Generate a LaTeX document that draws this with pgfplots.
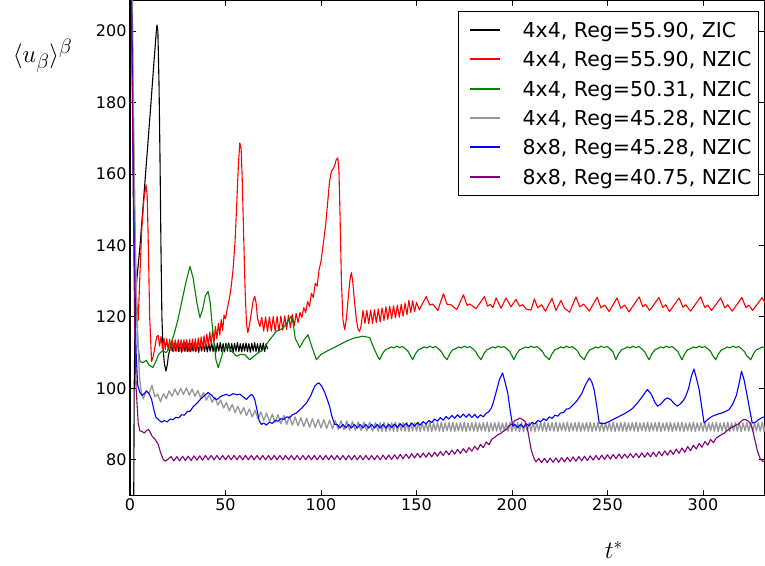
\documentclass[border=0pt]{standalone}
\usepackage[no-math]{fontspec}
\setmainfont{DejaVu Sans}
\usepackage{pgfplots}
\pgfplotsset{compat=1.18}
\definecolor{mplgreen}{RGB}{0,128,0}
\definecolor{mplgray}{RGB}{150,150,150}
\definecolor{mplpurple}{RGB}{128,0,128}
\begin{document}
\begin{tikzpicture}
\begin{axis}[
  width=635pt, height=495.5pt, scale only axis,
  xmin=0, xmax=332.5, ymin=70, ymax=208.7,
  xtick={0,50,...,300}, ytick={80,100,...,200},
  tick align=inside, major tick length=6pt,
  tick style={black, line width=0.8pt},
  axis line style={line width=1.2pt},
  ticklabel style={font=\fontsize{16}{19}\selectfont},
  /pgf/number format/assume math mode=true,
  xlabel={$t^*$},
  xlabel style={at={(rel axis cs:0.762,-0.109)}, anchor=center, font=\fontsize{27}{32}\selectfont},
  every axis plot/.append style={line width=1.1pt, line join=round},
  legend cell align=left,
  legend image code/.code={\draw[#1, line width=2pt] (0pt,0pt) -- (30pt,0pt); \path (-4pt,0pt) (52pt,0pt);},
  legend style={at={(rel axis cs:0.9906,0.9778)}, anchor=north east, draw=black, line width=1pt, fill=white,
    font=\fontsize{20.5}{24}\selectfont, inner xsep=7pt, inner ysep=11.2pt, row sep=14.3pt,
    nodes={inner sep=0pt, text height=15pt, text depth=0pt}},
]
% black ZIC
\addplot[black] coordinates {(0,0)(1.4,0)(1.8,50)(2.2,100)(2.7,122)(3.5,130)(5.2,139.6)(7,152)(9,166)(11,180)(12.5,191)(13.5,198)(14.1,201.7)(14.6,200)(15.2,185)(15.7,165)(16.2,140)(16.7,120)(17.3,111)(18,107)(18.8,104.8)(19.5,106.5)(20.2,109.5)(21,111)
(21.75,112.4)(22.5,110.2)(23.25,112.6)(24,110.4)(24.75,112.7)(25.5,110.3)(26.25,112.5)(27,110.1)(27.75,112.6)(28.5,110.4)(29.25,112.8)(30,110.3)(30.75,112.5)(31.5,110.2)(32.25,112.6)(33,110.4)(33.75,112.7)(34.5,110.3)(35.25,112.5)(36,110.1)(36.75,112.6)(37.5,110.4)(38.25,112.8)(39,110.3)(39.75,112.5)(40.5,110.2)(41.25,112.6)(42,110.4)(42.75,112.7)(43.5,110.3)(44.25,112.5)(45,110.1)(45.75,112.6)(46.5,110.4)(47.25,112.8)(48,110.3)(48.75,112.5)(49.5,110.2)(50.25,112.6)(51,110.4)(51.75,112.7)(52.5,110.3)(53.25,112.5)(54,110.1)(54.75,112.6)(55.5,110.4)(56.25,112.8)(57,110.3)(57.75,112.5)(58.5,110.2)(59.25,112.6)(60,110.4)(60.75,112.7)(61.5,110.3)(62.25,112.5)(63,110.1)(63.75,112.6)(64.5,110.4)(65.25,112.8)(66,110.3)(66.75,112.5)(67.5,110.2)(68.25,112.6)(69,110.4)(69.75,112.7)(70.5,110.3)(71.25,112.5)(72,111)};
\addlegendentry{4x4, Reg=55.90, ZIC}
% red
\addplot[red] coordinates {(0,260)(0.8,210)(1.6,170)(2.5,140)(3.4,125)(4.3,119)(5.2,132)(6.2,145)(7.3,153)(8.4,157)(9,154)(9.6,140)(10.3,120)(11.3,107.5)(12.2,109)(13.2,112)(14,114.5)
(14.75,114.8)(15.5,111.8)(16.25,114.5)(17,111.1)(17.75,114.1)(18.5,110.9)(19.25,113.9)(20,110.7)(20.75,113.8)(21.5,110.6)(22.25,113.7)(23,110.5)(23.75,113.6)(24.5,110.4)(25.25,113.6)(26,110.4)(26.75,113.6)(27.5,110.4)(28.25,113.6)(29,110.4)(29.75,113.6)(30.5,110.4)(31.25,113.7)(32,110.4)(32.75,113.8)(33.5,110.5)(34.25,113.9)(35,110.6)(35.75,114.1)(36.5,110.7)(37.25,114.4)(38,111)(38.75,114.7)(39.5,111.4)(40.25,115.2)(41,111.9)(41.75,115.8)(42.5,112.4)(43.25,116.5)(44,113)(44.75,117.3)(45.5,113.8)(46.25,118.2)(47,114.9)(47.75,119.3)(48.5,116.2)(49.25,120.5)
(50,119.5)(51,122.5)(52,125)(53,128.5)(54,133.5)(55,141)(56,153)(56.8,163)(57.5,168.7)(58.2,167)(58.8,158)(59.5,143)(60.3,127)(61,118)(61.7,115.6)(62.5,117.5)(63.5,121)(64.5,124.5)(65.3,125.7)(66,124)(66.8,119.5)(68,117.3)
(69,119.9)(70,116.0)(71,120.0)(72,115.9)(73,120.0)(74,116.0)(75,120.1)(76,116.0)(77,120.1)(78,116.1)(79,120.2)(80,116.3)(81,120.3)(82,116.5)(83,120.5)(84,116.9)(85,120.7)(86,117.5)(87,121.0)(88,118.4)
(89,121.2)(90,119.8)(91,122.6)(92,121.2)(93,124.3)(94,122.9)(95,126.6)(96,125.4)(97,129.4)(98,128.6)(99,133.2)(100,135.5)(101,139.6)(102.5,146)(103.5,152)(104.5,158)(105.5,160.8)(106.5,161.5)(107.3,162.5)(108,164)(108.8,164.5)(109.4,161)(110,148)(110.7,130)(111.5,119.2)(112.4,116.4)(113.3,119.5)(114.2,125)(115.2,130.5)(115.9,132.4)(116.6,130)(117.5,124.5)(118.5,119.5)(119.4,116.5)(120.2,115.9)(121,117.5)
(122,121.8)(123,118.2)(124,121.8)(125,118.1)(126,121.9)(127,118.2)(128,122)(129,118.4)(130,122.2)(131,118.6)(132,122.5)(133,119)(134,122.8)(135,119.3)(136,123)(137,119.5)(138,123.1)(139,119.7)(140,123.3)(141,119.9)(142,123.5)(143,120.2)(144,123.9)(145,120.6)(146,124.6)(147,121.2)(148,124.5)(149,121.5)(150,124)(151.5,122)(153.3,123.9)
(155.1,125.7)(157,123.3)(158.5,123.6)(161.2,121.8)(164.1,126.5)(166,123.5)(168.1,123.4)(171.1,122)(174.6,126.2)(176.5,123.2)(178,123.6)(181.2,122.3)(185.6,125.7)(187.2,123)(188.6,123.5)(190,122.6)(191.7,125.3)(194.3,122.4)(196.9,125.3)(199.5,122.8)(202.1,124.9)(204,123)(205.6,123.4)(207.4,122.2)(210,121.9)(211.7,125)(213.5,122.5)(215.5,123.4)(217.5,121.6)(221,125.2)(223,121.8)(225.7,124.6)(227.5,122.4)(230.2,121.3)(233.5,125.6)(235.5,122.8)(237.5,123.6)(240.5,121.6)(244.6,125.5)(246.5,122.6)(248.5,123.3)(250.9,121.5)(255,125.3)(257,122.4)(259,123.3)(261.3,121.4)(266.6,125.6)(268.5,122.8)(270,123.5)(272,121.8)(277,125.4)(279,122.6)(280.5,123.4)(282.5,121.5)(287.5,125.3)(289.5,122.7)(291,123.4)(293.5,121.6)(298.8,125.6)(301,122.6)(302.5,123.3)(304.5,121.8)(309.3,125.3)(311.5,122.5)(313,123.4)(315.3,121.6)(320.4,125.4)(322.5,122.6)(324,123.3)(326,121.8)(331,125.4)(333,123.5)};
\addlegendentry{4x4, Reg=55.90, NZIC}
% green
\addplot[mplgreen] coordinates {(0,260)(1.2,200)(2.3,150)(3.2,125)(4.2,112)(5.2,107.5)(6.8,107.2)(8.5,107.8)(10,106.5)(12,105.8)(13.5,107.5)(15,109.5)(17,110.5)(19,110)(20.9,111.7)(23,115)(25,119)(27,124)(29.6,130.4)(31.4,134.1)(33,131)(35,124)(36.6,119.8)(38,122)(39.5,126)(40.9,127.1)(42,124)(43.5,115)(45,108)(46.2,105.8)(47.5,108)(49,111)(51.3,112.2)(53,110.5)(55.8,109)(58,109.5)(60.1,109.4)(62.7,108)(66,109.5)(69.5,110.8)(73,113.5)(76.7,116)(79,116.5)(81,117.4)(83,119)(84.5,120.2)(85.5,118)(86.5,114)(88.9,111.4)(91,113.5)(93.2,115)(95,112)(97.6,108)(100,109.5)(104.5,110.8)(109,112)(113.3,113.2)(117,114)(121.8,114.6)(125.5,114.2)(127.5,111.5)(129.6,109)
(130.7,108.0)(132.2,109.7)(133.7,110.8)(135.2,111.1)(136.7,111.6)(138.2,111.3)(139.7,111.8)(141.2,111.4)(142.7,111.7)(144.2,111.1)(145.7,110.3)(146.9,109.1)
(148,108.0)(149.5,109.7)(151,110.8)(152.5,111.1)(154,111.6)(155.5,111.3)(157,111.8)(158.5,111.4)(160,111.7)(161.5,111.1)(163,110.3)(164.2,109.1)
(166,108.0)(167.5,109.7)(169,110.8)(170.5,111.1)(172,111.6)(173.5,111.3)(175,111.8)(176.5,111.4)(178,111.7)(179.5,111.1)(181,110.3)(182.2,109.1)
(183.8,108.0)(185.3,109.7)(186.8,110.8)(188.3,111.1)(189.8,111.6)(191.3,111.3)(192.8,111.8)(194.3,111.4)(195.8,111.7)(197.3,111.1)(198.8,110.3)(200,109.1)
(201,108.0)(202.5,109.7)(204,110.8)(205.5,111.1)(207,111.6)(208.5,111.3)(210,111.8)(211.5,111.4)(213,111.7)(214.5,111.1)(216,110.3)(217.2,109.1)(218.5,108.6)
(219.5,108.0)(221,109.7)(222.5,110.8)(224,111.1)(225.5,111.6)(227,111.3)(228.5,111.8)(230,111.4)(231.5,111.7)(233,111.1)(234.5,110.3)(235.7,109.1)(236.8,108.5)
(237.8,108.0)(239.3,109.7)(240.8,110.8)(242.3,111.1)(243.8,111.6)(245.3,111.3)(246.8,111.8)(248.3,111.4)(249.8,111.7)(251.3,111.1)(252.8,110.3)
(254.4,108.0)(255.9,109.7)(257.4,110.8)(258.9,111.1)(260.4,111.6)(261.9,111.3)(263.4,111.8)(264.9,111.4)(266.4,111.7)(267.9,111.1)(269.4,110.3)(270.6,109.1)
(271.8,108.0)(273.3,109.7)(274.8,110.8)(276.3,111.1)(277.8,111.6)(279.3,111.3)(280.8,111.8)(282.3,111.4)(283.8,111.7)(285.3,111.1)(286.8,110.3)(288,109.1)
(289,108.0)(290.5,109.7)(292,110.8)(293.5,111.1)(295,111.6)(296.5,111.3)(298,111.8)(299.5,111.4)(301,111.7)(302.5,111.1)(304,110.3)(305.2,109.1)
(306.7,108.0)(308.2,109.7)(309.7,110.8)(311.2,111.1)(312.7,111.6)(314.2,111.3)(315.7,111.8)(317.2,111.4)(318.7,111.7)(320.2,111.1)(321.7,110.3)(322.9,109.1)(324,108.6)
(325,108.0)(326.5,109.7)(328,110.8)(329.5,111.1)(331,111.6)(332.5,111.3)};
\addlegendentry{4x4, Reg=50.31, NZIC}
% gray
\addplot[mplgray, line width=1.3pt] coordinates {(0,260)(1,220)(2,170)(3,135)(4,115)(5,103)(6,98.5)(7,97)
(8.5,99.4)(10,98.6)(11.5,100.8)(13,97.6)(14.5,98.4)(16,96.2)(17.5,98.5)(19,97.1)(20.5,99.3)(22,97.8)(23.5,99.8)(25,98.1)(26.5,100)(28,98.3)(29.5,100.1)(31,98.1)(32.5,99.8)(34,97.8)(35.5,99.4)(37,97.3)(38.5,98.8)(40,96.7)(41.5,98.2)(43,96.1)(44.5,97.5)(46,95.3)(47.5,96.7)(49,94.5)(50.5,96)(52,93.7)(53.5,95.5)(55,93.2)(56.5,95)(58,92.8)(59.5,94.6)(61,92.4)(62.5,94.2)(64,92)(65.5,93.8)(67,91.5)(68.5,93.4)(70,91)(71.5,93.1)(73,90.7)(74.5,92.8)(76,90.4)(77.5,92.6)(79,90.1)(80.5,92.4)(82,89.9)(83.5,92.2)(85,89.7)(86.5,92)(88,89.5)(89.5,91.8)(91,89.3)(92.5,91.6)(94,89.1)(95.5,91.5)(97,89)(98.5,91.3)(100,88.9)(101.5,91.2)(103,88.8)(104.5,91.1)(106,88.7)(107.5,91)(109,88.5)(110.5,90.9)(112,88.4)(113.5,90.8)(115,88.3)(116.5,90.7)(118,88.2)(119.5,90.6)(121,88.2)(122.5,90.5)(124,88.1)(125.5,90.5)(127,88)(128.5,90.4)(130,88)
(131,90.4)(132,88.0)(133,90.5)(134,87.9)(135,90.3)(136,88.1)(137,90.4)(138,88.0)(139,90.5)(140,87.9)(141,90.3)(142,88.1)(143,90.4)(144,88.0)(145,90.5)(146,87.9)(147,90.3)(148,88.1)(149,90.4)(150,88.0)(151,90.5)(152,87.9)(153,90.3)(154,88.1)(155,90.4)(156,88.0)(157,90.5)(158,87.9)(159,90.3)(160,88.1)(161,90.4)(162,88.0)(163,90.5)(164,87.9)(165,90.3)(166,88.1)(167,90.4)(168,88.0)(169,90.5)(170,87.9)(171,90.3)(172,88.1)(173,90.4)(174,88.0)(175,90.5)(176,87.9)(177,90.3)(178,88.1)(179,90.4)(180,88.0)(181,90.5)(182,87.9)(183,90.3)(184,88.1)(185,90.4)(186,88.0)(187,90.5)(188,87.9)(189,90.3)(190,88.1)(191,90.4)(192,88.0)(193,90.5)(194,87.9)(195,90.3)(196,88.1)(197,90.4)(198,88.0)(199,90.5)(200,87.9)(201,90.3)(202,88.1)(203,90.4)(204,88.0)(205,90.5)(206,87.9)(207,90.3)(208,88.1)(209,90.4)(210,88.0)(211,90.5)(212,87.9)(213,90.3)(214,88.1)(215,90.4)(216,88.0)(217,90.5)(218,87.9)(219,90.3)(220,88.1)(221,90.4)(222,88.0)(223,90.5)(224,87.9)(225,90.3)(226,88.1)(227,90.4)(228,88.0)(229,90.5)(230,87.9)(231,90.3)(232,88.1)(233,90.4)(234,88.0)(235,90.5)(236,87.9)(237,90.3)(238,88.1)(239,90.4)(240,88.0)(241,90.5)(242,87.9)(243,90.3)(244,88.1)(245,90.4)(246,88.0)(247,90.5)(248,87.9)(249,90.3)(250,88.1)(251,90.4)(252,88.0)(253,90.5)(254,87.9)(255,90.3)(256,88.1)(257,90.4)(258,88.0)(259,90.5)(260,87.9)(261,90.3)(262,88.1)(263,90.4)(264,88.0)(265,90.5)(266,87.9)(267,90.3)(268,88.1)(269,90.4)(270,88.0)(271,90.5)(272,87.9)(273,90.3)(274,88.1)(275,90.4)(276,88.0)(277,90.5)(278,87.9)(279,90.3)(280,88.1)(281,90.4)(282,88.0)(283,90.5)(284,87.9)(285,90.3)(286,88.1)(287,90.4)(288,88.0)(289,90.5)(290,87.9)(291,90.3)(292,88.1)(293,90.4)(294,88.0)(295,90.5)(296,87.9)(297,90.3)(298,88.1)(299,90.4)(300,88.0)(301,90.5)(302,87.9)(303,90.3)(304,88.1)(305,90.4)(306,88.0)(307,90.5)(308,87.9)(309,90.3)(310,88.1)(311,90.4)(312,88.0)(313,90.5)(314,87.9)(315,90.3)(316,88.1)(317,90.4)(318,88.0)(319,90.5)(320,87.9)(321,90.3)(322,88.1)(323,90.4)(324,88.0)(325,90.5)(326,87.9)(327,90.3)(328,88.1)(329,90.4)(330,88.0)(331,90.5)(332,87.9)(333,90.3)};
\addlegendentry{4x4, Reg=45.28, NZIC}
% blue
\addplot[blue] coordinates {(0,260)(0.8,210)(1.6,165)(2.4,130)(3.2,110)(4,101)(5.2,98.8)(6.5,98)(7.5,98.5)(8.7,99.2)(10,98.5)(11.3,96.9)(12.5,94)(13.5,92)(14.8,91.3)(16.5,90.5)(18,91)(19.5,90.6)(21,91.4)(22.5,91.2)(24,91.9)(25.5,91.7)(27,92.6)(28.5,92.5)(30,93.5)(31.5,93.6)(33,94.8)(35,95.8)(37,97)(39,98)(40.9,98.8)(42.5,98.2)(44,97.3)(45.5,96.8)(47,97.5)(48.5,98)(50.5,98.3)(52,97.9)(54,98.5)(56,98.2)(57.5,98.4)(59.5,97.5)(61,96.9)(62.5,97.8)(63.6,98.3)(64.5,97.8)(65.3,96.9)(66.5,94)(67.6,91)(68.8,89.9)(70,90.3)(71.5,89.7)(73,90.5)(74.5,90.2)(76,91)(77.5,90.8)(79,91.5)(80.5,91.3)(82,92)(83.5,91.8)(85,92.6)(87.1,93.1)(90,94.5)(92.4,95.9)(94.5,97.8)(96.7,100.6)(98,101.3)(99,101.5)(100.5,100.5)(102,98.8)(103.2,97)(104.5,95)(105.8,92)(107.2,89.9)
(108.5,89.9)(110,88.9)(111.5,89.9)(113,88.9)(114.5,89.9)(116,88.9)(117.5,89.9)(119,88.9)(120.5,89.9)(122,88.9)(123.5,89.9)(125,88.9)(126.5,89.9)(128,88.9)(129.5,89.9)(131,88.9)(132.5,89.9)(134,88.9)(135.5,89.9)(137,89.0)(138.5,90.0)(140,89.1)(141.5,90.1)(143,89.2)(144.5,90.2)(146,89.3)(147.5,90.3)(149,89.4)(150.5,90.4)(152,89.7)(153.5,90.7)(155,90.0)(156.5,91.0)(158,90.4)(159.5,91.4)(161,90.8)(162.5,91.8)(164,91.1)(165.5,92.1)(167,91.4)(168.5,92.4)(170,91.6)(171.5,92.6)(173,91.8)(174.5,92.8)(176,91.9)(177.5,92.8)(179,91.8)(180.5,92.7)(182,91.7)(183.5,92.6)(185,92.0)(186.5,93.0)(188,93.5)(189.2,94.5)(190.2,96)(191.5,98.5)(193.4,102.4)(195.1,104.3)(196.5,101.5)(197.8,98.7)(199,94)(200.4,89.4)
(201.5,89.9)(203,89.0)(204.5,89.9)(206,89.1)(207.5,90.1)(209,89.5)(210.5,90.5)(212,90)(213.5,91)(215,90.6)(216.5,91.5)(218,91)(219.5,92)(221,91.6)(222.5,92.5)(224,92.2)(225.5,93.1)(227,93.2)(228.5,94.2)(230,94.3)(231.7,95.2)(234,96.5)(236.5,98.5)(238.5,101)(240.5,102.9)(241.8,101.8)(243,99.7)(244.4,95)(245.7,90.3)(247.5,90.1)(249.2,90.3)(252,91)(256,92.1)(259.6,93.1)(263,94.3)(265.7,95.9)(268,97.5)(270.9,99.7)(273,98.3)(274.7,96.2)(276.2,95)(278,95.6)(280,96.9)(281.4,97.3)(283,96.9)(284.8,95.8)(286.6,95)(288.5,95.8)(290,96.8)(291,97.8)(292.5,100)(294,103.5)(295.3,105.4)(296.5,103)(298,99.7)(299.3,95)(300.6,90.3)(302.5,91.3)(304.9,92.2)(308,92.8)(311,93.3)(313.6,94)(315.5,95.5)(317.5,98)(319,101.5)(320.2,104.8)(321.5,102.5)(323.2,97.8)(324.5,94)(325.8,90.3)(327.5,90.5)(329.3,91.3)(331,91.8)(333,92.2)};
\addlegendentry{8x8, Reg=45.28, NZIC}
% purple
\addplot[mplpurple] coordinates {(0,260)(0.8,210)(1.6,160)(2.4,120)(3.2,100)(4.3,90.3)(5.2,88)(6.1,88)(7.5,87.5)(8.7,88.2)(9.6,88.5)(10.5,87.8)(11.6,86.6)(13,85.8)(14.8,84.3)(16,82)(17.4,80.1)(18.5,79.6)(20,80.2)
(21.5,80.9)(23,79.7)(24.5,80.9)(26,79.7)(27.5,81.0)(29,79.8)(30.5,81.0)(32,79.8)(33.5,81.1)(35,79.9)(36.5,81.1)(38,79.9)(39.5,81.2)(41,80.0)(42.5,81.2)(44,80.0)(45.5,81.2)(47,80.0)(48.5,81.2)(50,80.0)(51.5,81.2)(53,80.0)(54.5,81.2)(56,80.0)(57.5,81.2)(59,80.0)(60.5,81.2)(62,80.0)(63.5,81.2)(65,80.0)(66.5,81.2)(68,80.0)(69.5,81.2)(71,80.0)(72.5,81.2)(74,80.0)(75.5,81.2)(77,80.0)(78.5,81.2)(80,80.0)(81.5,81.2)(83,80.0)(84.5,81.2)(86,80.0)(87.5,81.2)(89,80.0)(90.5,81.2)(92,80.0)(93.5,81.2)(95,80.0)(96.5,81.2)(98,80.0)(99.5,81.2)(101,80.0)(102.5,81.2)(104,80.0)(105.5,81.2)(107,80.0)(108.5,81.2)(110,80.0)(111.5,81.2)(113,80.0)(114.5,81.2)(116,80.0)(117.5,81.2)(119,80.0)(120.5,81.2)(122,80.0)(123.5,81.2)(125,80.0)
(126.5,81.2)(128,80.0)(129.5,81.2)(131,80.0)(132.5,81.3)(134,80.1)(135.5,81.3)(137,80.1)(138.5,81.4)(140,80.2)(141.5,81.5)(143,80.3)(144.5,81.6)(146,80.4)(147.5,81.7)(149,80.5)(150.5,81.8)(152,80.6)(153.5,81.9)(155,80.7)(156.5,82.0)(158,80.8)(159.5,82.1)(161,81.0)(162.5,82.3)(164,81.2)(165.5,82.5)(167,81.4)(168.5,82.7)(170,81.6)(171.5,82.9)(173,81.8)(174.5,83.1)(176,82.0)(177.5,83.4)(179,82.4)(180.5,83.8)(182,82.8)(183.5,84.3)(185,83.4)(186.5,85.0)(188,84.2)(189.5,85.8)
(191,86.3)(192.5,87)(194,87.3)(195.5,88)(197,88.5)(198.5,89.5)(200,90)(201.5,91)(203,91.3)(204,91.7)(205.5,91.3)(207,90.6)(208,89)(209,86)(210,83)(210.8,81.5)(211.7,80.2)(212.6,79.4)
(214,80.4)(215.5,79.2)(217,80.4)(218.5,79.2)(220,80.5)(221.5,79.3)(223,80.5)(224.5,79.3)(226,80.6)(227.5,79.4)(229,80.7)(230.5,79.5)(232,80.8)(233.5,79.6)(235,80.9)(236.5,79.7)(238,81.0)(239.5,79.8)(241,81.1)(242.5,79.9)(244,81.2)(245.5,80.0)(247,81.3)(248.5,80.1)(250,81.4)(251.5,80.2)(253,81.5)(254.5,80.3)(256,81.6)(257.5,80.4)(259,81.6)(260.5,80.5)(262,81.7)(263.5,80.6)(265,81.8)(266.5,80.6)(268,81.9)(269.5,80.7)(271,82.0)(272.5,80.8)(274,82.1)(275.5,80.9)(277,82.3)(278.5,81.1)(280,82.5)(281.5,81.3)(283,82.7)(284.5,81.5)(286,83.0)(287.5,81.8)(289,83.3)(290.5,82.1)(292,83.7)(293.5,82.5)(295,84.1)(296.5,83.0)(298,84.6)(299.5,83.5)(301,85.1)(302.5,84.1)(304,85.7)(305.5,84.8)
(307,86.1)(309,86.8)(311,87.4)(313,88.3)(315,89.1)(317,89.6)(318.9,90.1)(320.5,91)(321.5,91.3)(322.5,91.2)(324,90.7)(325,90)(326,88.5)(327,86)(327.6,84.7)(328.5,82.5)(329.5,81)(330.2,80.1)(331.5,79.5)(333,79.8)};
\addlegendentry{8x8, Reg=40.75, NZIC}
\end{axis}
\node[font=\fontsize{28}{33}\selectfont, anchor=center] at ([xshift=-87.5pt,yshift=-56pt]current axis.north west) {$\langle u_\beta\rangle^\beta$};
\pgfresetboundingbox
\path ([xshift=-130pt,yshift=-70pt]current axis.south west) rectangle (current axis.north east);
\end{tikzpicture}
\end{document}
